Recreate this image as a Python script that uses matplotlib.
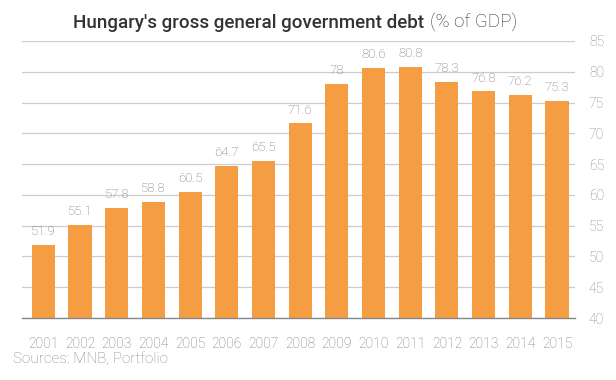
import matplotlib
matplotlib.use("Agg")
import matplotlib.pyplot as plt

years = ["2001", "2002", "2003", "2004", "2005", "2006", "2007", "2008",
         "2009", "2010", "2011", "2012", "2013", "2014", "2015"]
debt = [51.9, 55.1, 57.8, 58.8, 60.5, 64.7, 65.5, 71.6,
        78, 80.6, 80.8, 78.3, 76.8, 76.2, 75.3]
labels = ["51.9", "55.1", "57.8", "58.8", "60.5", "64.7", "65.5", "71.6",
          "78", "80.6", "80.8", "78.3", "76.8", "76.2", "75.3"]
yticks = [40, 45, 50, 55, 60, 65, 70, 75, 80, 85]

plt.rcParams['font.family'] = ['Roboto', 'DejaVu Sans']

fig = plt.figure(figsize=(6.16, 3.8), dpi=100)
W, H = 616, 380
ax = fig.add_axes([22 / W, 1 - 318 / H, (575 - 22) / W, (318 - 41) / H])

x = list(range(len(years)))
ax.bar(x, debt, width=0.63, color='#f59d43', zorder=2)
for xi, v, lab in zip(x, debt, labels):
    ax.annotate(lab, (xi, v), xytext=(0, 5), textcoords='offset points',
                ha='center', va='bottom', fontsize=9.5, color='#737373',
                fontweight='light')

ax.set_ylim(40, 85)
ax.set_xlim(-0.58, 14.49)
ax.set_yticks(yticks)
ax.yaxis.tick_right()
ax.yaxis.grid(True, color='#cccccc', linewidth=0.9, zorder=0)
ax.set_axisbelow(True)
ax.tick_params(axis='y', length=0, pad=10, labelsize=10, labelcolor='#888888')
ax.tick_params(axis='x', length=0, pad=14, labelsize=10, labelcolor='#777777')
for lab in ax.get_yticklabels() + ax.get_xticklabels():
    lab.set_fontweight('light')
ax.set_xticks(x)
ax.set_xticklabels(years)
for s in ['top', 'left', 'right']:
    ax.spines[s].set_visible(False)
ax.spines['bottom'].set_color('#888888')
ax.spines['bottom'].set_linewidth(1.0)

t1 = fig.text(73 / W, 1 - 23 / H, "Hungary's gross general government debt",
              fontsize=13.5, fontweight='medium', color='#333333', ha='left', va='center')
fig.canvas.draw()
bb = t1.get_window_extent()
fig.text(bb.x1 / W + 6 / W, 1 - 23 / H, "(% of GDP)", fontsize=13.5,
         fontweight='light', color='#333333', ha='left', va='center')

fig.text(13 / W, 1 - 359 / H, "Sources: MNB, Portfolio", fontsize=11,
         fontweight='light', color='#888888', ha='left', va='center')

fig.savefig("out.png", dpi=100)
